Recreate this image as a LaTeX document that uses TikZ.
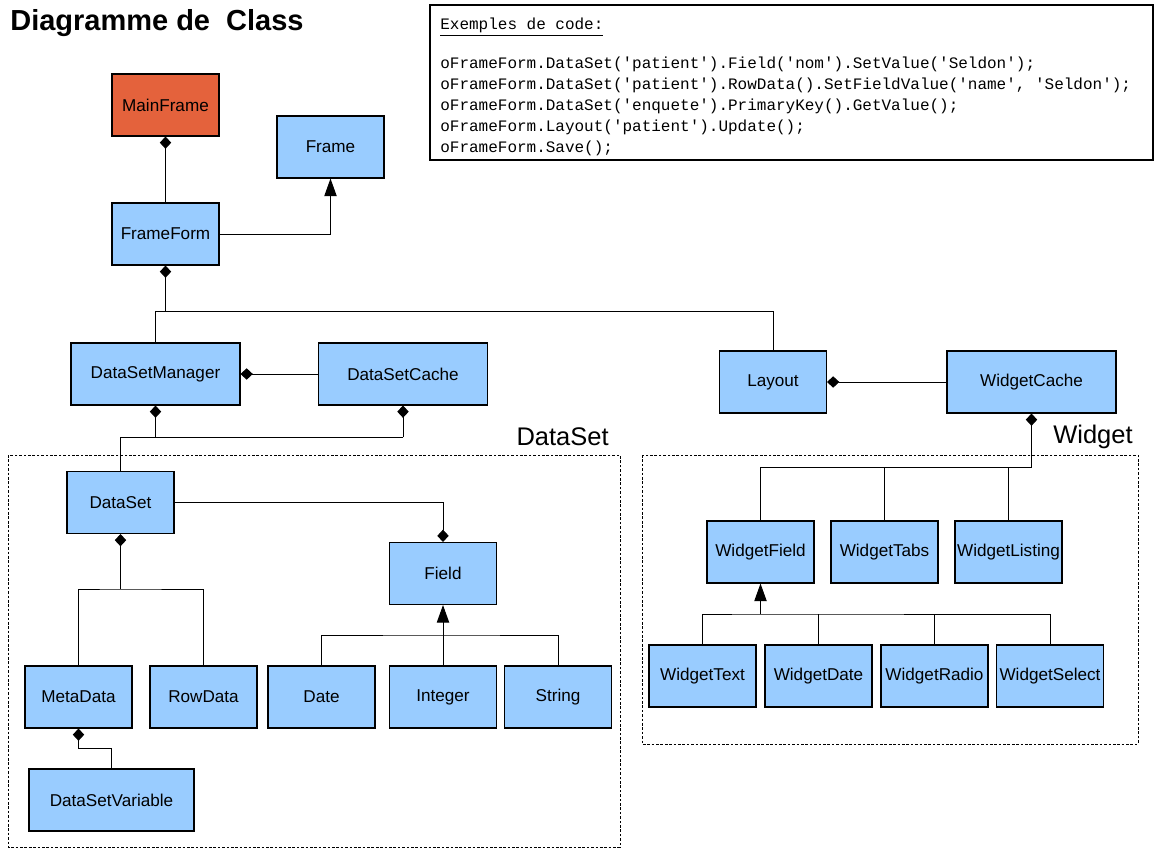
\documentclass[tikz,border=0pt]{standalone}
\usepackage{fontspec}
\setmainfont{Liberation Sans}
\setmonofont{Liberation Mono}
\usetikzlibrary{arrows.meta}

\definecolor{clsblue}{RGB}{153,204,255}
\definecolor{clsorange}{RGB}{228,98,60}

\tikzset{
  cls/.style={draw=black, line width=0.6pt, fill=clsblue, minimum width=2.14cm, minimum height=1.24cm, inner sep=1pt, font=\fontsize{9.75}{11}\selectfont},
  widecls/.style={cls, minimum width=3.38cm},
  link/.style={line width=0.55pt},
  comp/.style={link, -{Diamond[length=7pt,width=6.5pt]}},
  inherit/.style={link, -{Triangle[length=10pt,width=7pt]}},
  pkg/.style={draw, line width=0.5pt, dash pattern=on 1.5pt off 1pt},
  pkglabel/.style={anchor=base east, inner sep=0pt, font=\fontsize{14.5}{16}\selectfont},
}

\begin{document}
\begin{tikzpicture}[x=0.02cm, y=-0.02cm]
        \useasboundingbox (0,0) rectangle (1157,868);

        \node[anchor=base west, inner sep=0pt, font=\bfseries\fontsize{16.5}{19}\selectfont] (title) at (10,31) {Diagramme de\ \ Class};

        \draw[line width=0.6pt] (430,5) rectangle (1153,160);
        \node[anchor=north west, align=left, inner sep=0pt, font=\ttfamily\fontsize{9.1}{11.9}\selectfont] (code) at (440,18) {%
          \underline{Exemples de code:}\\[10pt]
          oFrameForm.DataSet('patient').Field('nom').SetValue('Seldon');\\
          oFrameForm.DataSet('patient').RowData().SetFieldValue('name', 'Seldon');\\
          oFrameForm.DataSet('enquete').PrimaryKey().GetValue();\\
          oFrameForm.Layout('patient').Update();\\
          oFrameForm.Save();};

        \draw[pkg] (8,455) rectangle (620,847);
        \node[pkglabel] (dslabel) at (609,445) {DataSet};
        \draw[pkg] (642,455) rectangle (1138,744);
        \node[pkglabel] (wlabel) at (1133,443) {Widget};

        \node[cls, fill=clsorange] (mainframe) at (165.5,105) {MainFrame};
        \node[cls] (frame) at (330.5,147) {Frame};
        \node[cls] (frameform) at (165.5,234) {FrameForm};
        \node[widecls] (dsmanager) at (155.5,374) {DataSetManager};
        \node[widecls] (dscache) at (403,374) {DataSetCache};
        \node[cls] (layout) at (773,382) {Layout};
        \node[widecls] (wcache) at (1031.5,382) {WidgetCache};

        \node[cls] (dataset) at (120.5,502.5) {DataSet};
        \node[cls] (field) at (443,573.5) {Field};
        \node[cls] (metadata) at (78.5,697) {MetaData};
        \node[cls] (rowdata) at (203.5,697) {RowData};
        \node[cls] (date) at (321.5,697) {Date};
        \node[cls] (integer) at (443,697) {Integer};
        \node[cls] (string) at (558,697) {String};
        \node[cls, minimum width=3.3cm] (dsvariable) at (111.5,800) {DataSetVariable};

        \node[cls] (wfield) at (760.5,552) {WidgetField};
        \node[cls] (wtabs) at (884.5,552) {WidgetTabs};
        \node[cls] (wlisting) at (1008.5,552) {WidgetListing};
        \node[cls] (wtext) at (702.5,676) {WidgetText};
        \node[cls] (wdate) at (818.5,676) {WidgetDate};
        \node[cls] (wradio) at (934.5,676) {WidgetRadio};
        \node[cls] (wselect) at (1050,676) {WidgetSelect};

        \coordinate (topbus) at (165.5,311);
        \coordinate (dsbus) at (155.5,437);
        \coordinate (dsetbus) at (120.5,589);
        \coordinate (fieldbus) at (443,635);
        \coordinate (mdjoint) at (78.5,748);
        \coordinate (wbus) at (1031.5,467);
        \coordinate (wfbus) at (760.5,614);

        \draw[comp] (frameform) -- (mainframe);
        \draw[inherit] (frameform.east) -| (frame);

        \draw[comp] (topbus) -- (frameform);
        \draw[link] (dsmanager) |- (topbus -| layout) -- (layout);

        \draw[comp] (dscache) -- (dsmanager);
        \draw[comp] (dsbus) -- (dsmanager);
        \draw[comp] (dscache |- dsbus) -- (dscache);
        \draw[link] (dscache |- dsbus) -- (dataset |- dsbus) -- (dataset);

        \draw[comp] (dataset) -| (field);
        \draw[comp] (dsetbus) -- (dataset);
        \draw[link] (metadata) |- (dsetbus) -| (rowdata);
        \draw[inherit] (fieldbus) -- (field);
        \draw[link] (date) |- (fieldbus) -| (string);
        \draw[link] (integer) -- (fieldbus);
        \draw[comp] (dsvariable) |- (mdjoint) -- (metadata);

        \draw[comp] (wcache) -- (layout);
        \draw[comp] (wbus) -- (wcache);
        \draw[link] (wfield) |- (wbus);
        \draw[link] (wtabs) -- (wtabs |- wbus);
        \draw[link] (wlisting) -- (wlisting |- wbus);
        \draw[inherit] (wfbus) -- (wfield);
        \draw[link] (wtext) |- (wfbus) -| (wselect);
        \draw[link] (wdate) -- (wdate |- wfbus);
        \draw[link] (wradio) -- (wradio |- wfbus);
      \end{tikzpicture}
\end{document}
